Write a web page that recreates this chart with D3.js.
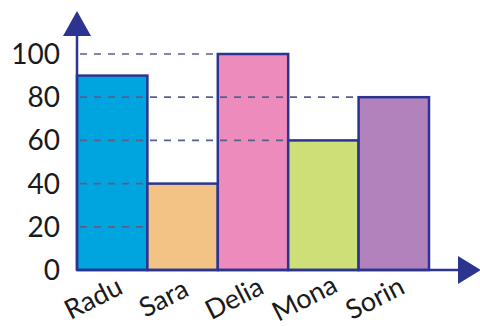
<!DOCTYPE html>
<html>
<head>
<meta charset="utf-8">
<script src="https://cdn.jsdelivr.net/npm/d3@7"></script>
<style>
  body { margin: 0; background: #fff; }
  svg { display: block; }
</style>
</head>
<body>
<svg id="chart" width="480" height="326"></svg>
<script>
// data
var names = ["Radu", "Sara", "Delia", "Mona", "Sorin"];
var values = [90, 40, 100, 60, 80];
var colors = ["#00a5df", "#f3c386", "#ee8bbd", "#cfdf78", "#b182bc"];
var yTicks = [0, 20, 40, 60, 80, 100];
// where each dashed guide line stops (left edge of that bar)
var guideEnd = [null, "Sara", "Sara", "Mona", "Sorin", "Delia"];

var svg = d3.select("#chart");
var navy = "#2b3590";

var x = d3.scaleBand().domain(names).range([77, 429]).padding(0);
var y = d3.scaleLinear().domain([0, 100]).range([270, 54]);

// bars
svg.append("g").selectAll("rect")
	.data(names)
	.enter().append("rect")
	.attr("x", function(d) { return x(d); })
	.attr("y", function(d, i) { return y(values[i]); })
	.attr("width", x.bandwidth())
	.attr("height", function(d, i) { return y(0) - y(values[i]); })
	.attr("fill", function(d, i) { return colors[i]; })
	.attr("stroke", navy)
	.attr("stroke-width", 2.5);

// dashed guides, drawn over the bars
svg.append("g").selectAll("line")
	.data(yTicks.filter(function(t, i) { return guideEnd[i]; }))
	.enter().append("line")
	.attr("x1", 80)
	.attr("x2", function(t) { return x(guideEnd[yTicks.indexOf(t)]); })
	.attr("y1", function(t) { return y(t); })
	.attr("y2", function(t) { return y(t); })
	.attr("stroke", "#56608f")
	.attr("stroke-width", 1.7)
	.attr("stroke-dasharray", "7,7");

// axes lines
svg.append("line")
	.attr("x1", 77).attr("x2", 77)
	.attr("y1", y(0)).attr("y2", 30)
	.attr("stroke", navy).attr("stroke-width", 2.5);
svg.append("line")
	.attr("x1", 77).attr("x2", 462)
	.attr("y1", y(0)).attr("y2", y(0))
	.attr("stroke", navy).attr("stroke-width", 2.5);

// arrow heads
svg.append("path")
	.attr("d", "M63,36 L77,11 L91,36 Z")
	.attr("fill", navy);
svg.append("path")
	.attr("d", "M458,256 L481,270 L458,284 Z")
	.attr("fill", navy);

// y tick labels
svg.append("g").selectAll("text")
	.data(yTicks)
	.enter().append("text")
	.attr("x", 60)
	.attr("y", function(d) { return y(d); })
	.attr("dy", "0.36em")
	.attr("text-anchor", "end")
	.attr("font-family", "Lato, 'Open Sans', sans-serif")
	.attr("font-size", 28)
	.attr("fill", "#1a1a1a")
	.text(function(d) { return d; });

// x labels, tilted
svg.append("g").selectAll("text")
	.data(names)
	.enter().append("text")
	.attr("transform", function(d) {
		return "translate(" + (x(d) + x.bandwidth() / 2 - 19) + ",298) rotate(-27)";
	})
	.attr("dy", "0.35em")
	.attr("text-anchor", "middle")
	.attr("font-family", "Lato, 'Open Sans', sans-serif")
	.attr("font-size", 27)
	.attr("fill", "#1a1a1a")
	.text(function(d) { return d; });
</script>
</body>
</html>
